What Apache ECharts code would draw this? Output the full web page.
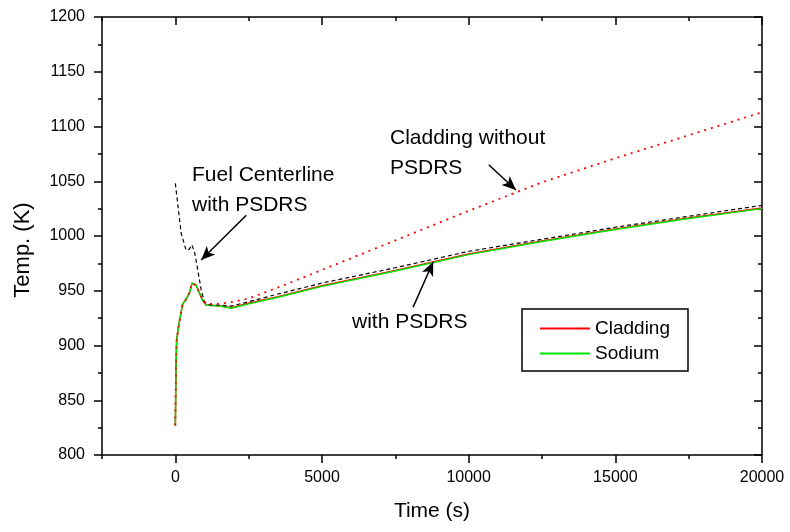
<!DOCTYPE html>
<html>
<head>
<meta charset="utf-8">
<script src="https://cdn.jsdelivr.net/npm/echarts@6/dist/echarts.min.js"></script>
<style>
html,body{margin:0;padding:0;background:#fff;}
#chart{width:790px;height:532px;}
</style>
</head>
<body>
<div id="chart"></div>
<script>
// ---- data ----
const timeCladding = [0, 10, 23, 45, 103, 160, 250, 365, 480, 570, 627, 707, 822, 936, 1050, 1507, 1906, 2500, 3500, 5000, 7500, 10000, 12500, 15000, 17500, 20000];
const tempCladding = [827, 850, 881, 905, 916, 925, 938, 942, 948, 957, 958.5, 955, 948, 941, 937, 936, 934.5, 938.5, 944.5, 954.5, 968.5, 983.5, 995.5, 1006.5, 1016.5, 1025.5];

const timeSodium = [0, 10, 23, 45, 103, 160, 250, 365, 480, 570, 627, 707, 822, 936, 1050, 1507, 1906, 2500, 3500, 5000, 7500, 10000, 12500, 15000, 17500, 20000];
const tempSodium = [827, 850, 881, 905, 916, 925, 938, 942, 948, 957, 958, 955, 948, 941, 937, 936, 934, 938, 944, 954, 968, 983, 995, 1006, 1016, 1025];

const timeFuel = [0, 80, 195, 366, 480, 560, 650, 765, 880, 990, 1165, 1500, 1900, 2500, 3500, 5000, 7500, 10000, 12500, 15000, 17500, 20000];
const tempFuel = [1048, 1030, 1003, 987, 988, 992, 986, 969, 951, 940, 937, 937, 936, 940, 947, 957, 971, 986, 997, 1008, 1018, 1028];

const timeNoPsdrs = [0, 10, 23, 45, 103, 160, 250, 365, 480, 570, 627, 707, 822, 936, 1050, 1500, 2000, 2500, 3500, 5000, 7500, 10000, 12500, 15000, 17500, 20000];
const tempNoPsdrs = [827, 850, 881, 905, 916, 925, 938, 942, 948, 957, 958, 955, 948, 941, 938, 938, 940, 943, 953, 969, 996, 1023, 1049, 1071, 1092, 1113];

const xMajorTicks = [0, 5000, 10000, 15000, 20000];
const seriesNames = ['Cladding', 'Sodium', 'Fuel Centerline with PSDRS', 'Cladding without PSDRS'];

// annotation arrows: [start, tip] in data units
const arrowFuel = [[2420, 1019], [880, 978]];
const arrowNoPsdrs = [[10685, 1065], [11610, 1042]];
const arrowWith = [[8106, 935], [8791, 976.5]];

const annotationTexts = ['Fuel Centerline\nwith PSDRS', 'Cladding without\nPSDRS', 'with PSDRS'];

// ---- chart ----
const FONT = '"Liberation Sans", Arial, Helvetica, sans-serif';
const zip = (a, b) => a.map((v, i) => [v, b[i]]);
const black = '#000';
const plain = v => String(v);

const xBase = {
  type: 'value', min: -2500, max: 20000, splitLine: { show: false },
  axisLine: { show: false }
};
const chart = echarts.init(document.getElementById('chart'), null, { renderer: 'canvas' });
chart.setOption({
  animation: false,
  backgroundColor: '#fff',
  grid: { left: 102, right: 28, top: 17, bottom: 77, containLabel: false },
  xAxis: [
    Object.assign({}, xBase, {
      position: 'bottom', interval: 2500,
      axisLine: { show: true, onZero: false, lineStyle: { color: black, width: 1.5 } },
      axisTick: { show: true, inside: false, length: 4, lineStyle: { color: black, width: 1.5 } },
      axisLabel: { customValues: xMajorTicks, formatter: plain, margin: 15, color: '#000', fontSize: 16, fontFamily: FONT },
      name: 'Time (s)', nameLocation: 'middle', nameGap: 46,
      nameTextStyle: { fontSize: 21, fontFamily: FONT, color: '#000' }
    }),
    Object.assign({}, xBase, {
      position: 'bottom',
      axisTick: { show: true, inside: false, length: 8, customValues: xMajorTicks, lineStyle: { color: black, width: 1.5 } },
      axisLabel: { show: false }
    }),
    Object.assign({}, xBase, {
      position: 'top', interval: 2500,
      axisLine: { show: true, onZero: false, lineStyle: { color: black, width: 1.5 } },
      axisTick: { show: true, inside: true, length: 4, lineStyle: { color: black, width: 1.5 } },
      axisLabel: { show: false }
    }),
    Object.assign({}, xBase, {
      position: 'top',
      axisTick: { show: true, inside: true, length: 8, customValues: xMajorTicks, lineStyle: { color: black, width: 1.5 } },
      axisLabel: { show: false }
    })
  ],
  yAxis: [
    {
      type: 'value', position: 'left', min: 800, max: 1200, interval: 50,
      splitLine: { show: false },
      axisLine: { show: true, onZero: false, lineStyle: { color: black, width: 1.5 } },
      axisTick: { show: true, inside: false, length: 8, lineStyle: { color: black, width: 1.5 } },
      minorTick: { show: true, splitNumber: 2, length: 4, lineStyle: { color: black, width: 1.5 } },
      minorSplitLine: { show: false },
      axisLabel: { formatter: plain, margin: 17, color: '#000', fontSize: 16, fontFamily: FONT },
      name: 'Temp. (K)', nameLocation: 'middle', nameGap: 68, nameRotate: 90,
      nameTextStyle: { fontSize: 22, fontFamily: FONT, color: '#000', padding: [0, 28, 0, 0] }
    },
    {
      type: 'value', position: 'right', min: 800, max: 1200, interval: 50,
      splitLine: { show: false },
      axisLine: { show: true, onZero: false, lineStyle: { color: black, width: 1.5 } },
      axisTick: { show: true, inside: true, length: 8, lineStyle: { color: black, width: 1.5 } },
      minorTick: { show: true, splitNumber: 2, length: 4, lineStyle: { color: black, width: 1.5 } },
      minorSplitLine: { show: false },
      axisLabel: { show: false }
    }
  ],
  legend: {
    data: [seriesNames[0], seriesNames[1]],
    orient: 'vertical', left: 522, top: 309,
    itemWidth: 50, itemHeight: 20, itemGap: 6,
    padding: [10, 18, 8, 17],
    borderColor: '#000', borderWidth: 1.5, backgroundColor: '#fff',
    itemStyle: { opacity: 0 },
    textStyle: { fontSize: 19, fontFamily: FONT, color: '#000' },
    selectedMode: false
  },
  series: [
    {
      name: seriesNames[0], type: 'line', xAxisIndex: 0, yAxisIndex: 0,
      data: zip(timeCladding, tempCladding), showSymbol: false, symbol: 'none',
      lineStyle: { color: '#ff0000', width: 1.5 }, itemStyle: { color: '#ff0000' }, z: 2
    },
    {
      name: seriesNames[1], type: 'line', xAxisIndex: 0, yAxisIndex: 0,
      data: zip(timeSodium, tempSodium), showSymbol: false, symbol: 'none',
      lineStyle: { color: '#00e600', width: 1.5 }, itemStyle: { color: '#00e600' }, z: 3
    },
    {
      name: seriesNames[2], type: 'line', xAxisIndex: 0, yAxisIndex: 0,
      data: zip(timeFuel, tempFuel), showSymbol: false, symbol: 'none',
      lineStyle: { color: '#000', width: 1.2, type: [4, 3] }, itemStyle: { color: '#000' }, z: 4,
      markLine: {
        silent: true, symbol: ['none', 'arrow'], symbolSize: [9, 14],
        label: { show: false },
        lineStyle: { color: '#000', type: 'solid', width: 1.5 },
        data: [
          [{ coord: arrowFuel[0] }, { coord: arrowFuel[1] }],
          [{ coord: arrowNoPsdrs[0] }, { coord: arrowNoPsdrs[1] }],
          [{ coord: arrowWith[0] }, { coord: arrowWith[1] }]
        ]
      }
    },
    {
      name: seriesNames[3], type: 'line', xAxisIndex: 0, yAxisIndex: 0,
      data: zip(timeNoPsdrs, tempNoPsdrs), showSymbol: false, symbol: 'none',
      lineStyle: { color: '#ff0000', width: 1.8, type: [2, 5] }, itemStyle: { color: '#ff0000' }, z: 5
    }
  ],
  graphic: [
    { type: 'text', left: 192, top: 160, style: { text: annotationTexts[0], font: '21px ' + FONT, fill: '#000', lineHeight: 30 } },
    { type: 'text', left: 390, top: 123, style: { text: annotationTexts[1], font: '21px ' + FONT, fill: '#000', lineHeight: 30 } },
    { type: 'text', left: 352, top: 307, style: { text: annotationTexts[2], font: '21px ' + FONT, fill: '#000', lineHeight: 30 } }
  ]
});
</script>
</body>
</html>
